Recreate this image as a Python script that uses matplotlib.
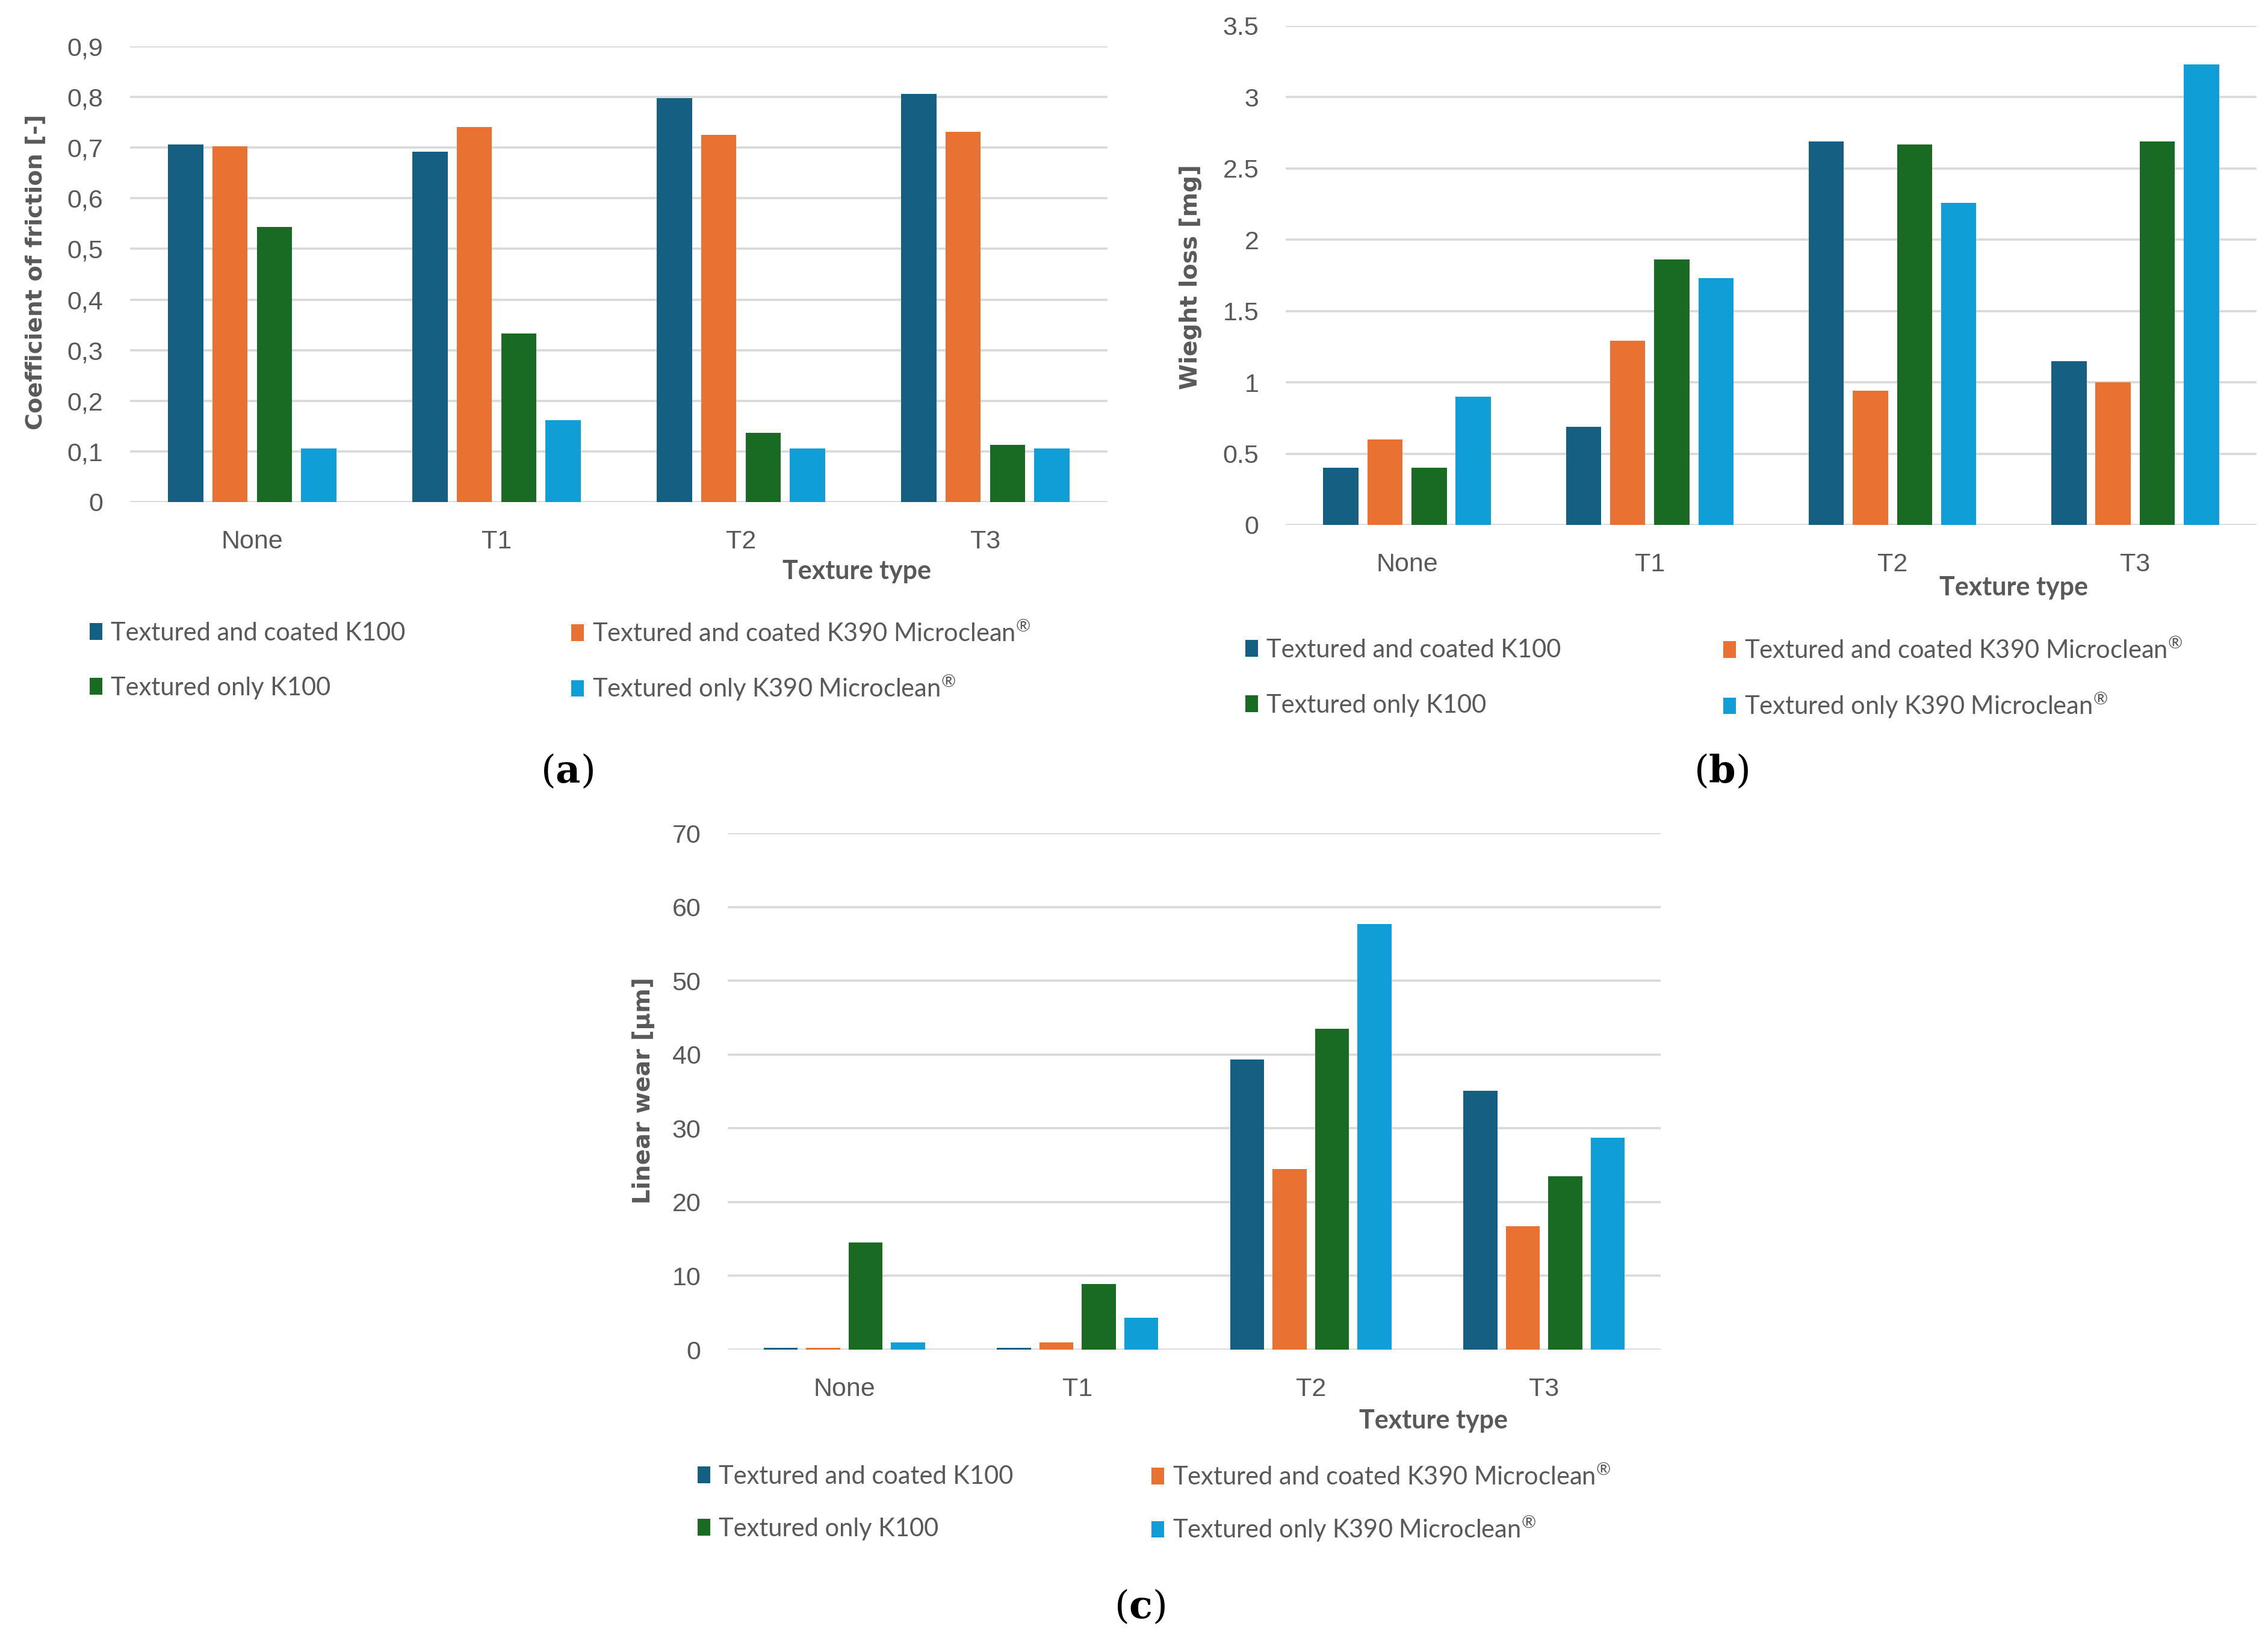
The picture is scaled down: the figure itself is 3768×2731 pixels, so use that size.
import matplotlib
matplotlib.use("Agg")
import matplotlib.pyplot as plt
import numpy as np
from matplotlib.patches import Patch

plt.rcParams["mathtext.fontset"] = "custom"
plt.rcParams["mathtext.rm"] = "Lato"
plt.rcParams["mathtext.it"] = "Lato:italic"
plt.rcParams["mathtext.bf"] = "DejaVu Serif:bold"

categories = ["None", "T1", "T2", "T3"]
series_names = ["Textured and coated K100",
                "Textured and coated K390 Microclean$^{®}$",
                "Textured only K100",
                "Textured only K390 Microclean$^{®}$"]
colors = ["#156082", "#E97132", "#196B24", "#0F9ED5"]

cof_coated_k100 = [0.706, 0.692, 0.798, 0.806]
cof_coated_k390 = [0.703, 0.741, 0.725, 0.731]
cof_only_k100 = [0.543, 0.333, 0.137, 0.113]
cof_only_k390 = [0.106, 0.162, 0.106, 0.106]

wl_coated_k100 = [0.40, 0.69, 2.69, 1.15]
wl_coated_k390 = [0.60, 1.29, 0.94, 1.00]
wl_only_k100 = [0.40, 1.86, 2.67, 2.69]
wl_only_k390 = [0.90, 1.73, 2.26, 3.23]

lw_coated_k100 = [0.25, 0.25, 39.3, 35.1]
lw_coated_k390 = [0.25, 1.0, 24.5, 16.7]
lw_only_k100 = [14.5, 8.9, 43.5, 23.5]
lw_only_k390 = [1.0, 4.3, 57.7, 28.7]

cof_ticks = [0, 0.1, 0.2, 0.3, 0.4, 0.5, 0.6, 0.7, 0.8, 0.9]
cof_ticklabels = ["0", "0,1", "0,2", "0,3", "0,4", "0,5", "0,6", "0,7", "0,8", "0,9"]
wl_ticks = [0, 0.5, 1, 1.5, 2, 2.5, 3, 3.5]
wl_ticklabels = ["0", "0.5", "1", "1.5", "2", "2.5", "3", "3.5"]
lw_ticks = [0, 10, 20, 30, 40, 50, 60, 70]
lw_ticklabels = ["0", "10", "20", "30", "40", "50", "60", "70"]

W, H = 3768, 2731
fig = plt.figure(figsize=(W / 100, H / 100), dpi=100)
fig.patch.set_facecolor("white")

GRAY = "#595959"
GRID = "#D9D9D9"
TICKFONT = "Liberation Sans"
LEGFONT = "Lato"

def fx(px):
    return px / W

def fy(py):
    return 1 - py / H

def make_panel(rect_px, series, ticks, ticklabels, ylabel, ylabel_pos, ylabel_size,
               xtitle_pos, legend_x, legend_y, tag, tag_pos):
    l, t, r, b = rect_px
    ax = fig.add_axes([fx(l), fy(b), fx(r) - fx(l), fy(t) - fy(b)])
    x = np.arange(len(categories))
    pitch = 0.182
    width = 0.145
    for i, (vals, c) in enumerate(zip(series, colors)):
        ax.bar(x + (i - 1.5) * pitch, vals, width=width, color=c, zorder=3)
    ax.set_xlim(-0.5, len(categories) - 0.5)
    ax.set_ylim(ticks[0], ticks[-1])
    ax.set_yticks(ticks)
    ax.set_yticklabels(ticklabels, fontfamily=TICKFONT, fontsize=31, color=GRAY)
    ax.set_xticks(x)
    ax.set_xticklabels(categories, fontfamily=TICKFONT, fontsize=31, color=GRAY)
    ax.tick_params(axis="y", length=0, pad=32)
    ax.tick_params(axis="x", length=0, pad=33)
    for s in ax.spines.values():
        s.set_visible(False)
    ax.set_axisbelow(True)
    ax.yaxis.grid(True, color=GRID, linewidth=2.6, zorder=0)
    fig.text(fx(ylabel_pos[0]), fy(ylabel_pos[1]), ylabel, rotation=90,
             ha="center", va="center", fontsize=ylabel_size, fontweight="bold",
             color=GRAY, fontfamily="DejaVu Sans")
    fig.text(fx(xtitle_pos[0]), fy(xtitle_pos[1]), "Texture type",
             ha="center", va="center", fontsize=31, fontweight="bold",
             color=GRAY, fontfamily=LEGFONT)
    order = [(0, 0, 0), (1, 1, 0), (2, 0, 1), (3, 1, 1)]
    for idx, col, row in order:
        h = Patch(facecolor=colors[idx], edgecolor="none")
        leg = fig.legend([h], [series_names[idx]], loc="center left",
                         bbox_to_anchor=(fx(legend_x[col]), fy(legend_y[row])),
                         bbox_transform=fig.transFigure, frameon=False,
                         borderpad=0, borderaxespad=0, handlelength=0.5,
                         handleheight=0.65, handletextpad=0.35,
                         prop={"family": LEGFONT, "size": 30})
        for txt in leg.get_texts():
            txt.set_color(GRAY)
    fig.text(fx(tag_pos[0]), fy(tag_pos[1]), r"($\mathbf{" + tag + r"}$)",
             ha="center", va="center", fontsize=46, color="black",
             fontfamily="DejaVu Serif")
    return ax

make_panel((216, 77, 1840, 834),
           [cof_coated_k100, cof_coated_k390, cof_only_k100, cof_only_k390],
           cof_ticks, cof_ticklabels, "Coefficient of friction [-]", (60, 452), 27.5,
           (1423, 949), (149, 949), (1052, 1143), "a", (942, 1282))

make_panel((2136, 43, 3749, 872),
           [wl_coated_k100, wl_coated_k390, wl_only_k100, wl_only_k390],
           wl_ticks, wl_ticklabels, "Wieght loss [mg]", (1978, 460), 28,
           (3345, 976), (2069, 2863), (1080, 1172), "b", (2860, 1282))

make_panel((1209, 1384, 2759, 2242),
           [lw_coated_k100, lw_coated_k390, lw_only_k100, lw_only_k390],
           lw_ticks, lw_ticklabels, "Linear wear [µm]", (1069, 1812), 28,
           (2381, 2360), (1159, 1913), (2453, 2540), "c", (1894, 2670))

fig.savefig("out.png", dpi=100, facecolor="white")
